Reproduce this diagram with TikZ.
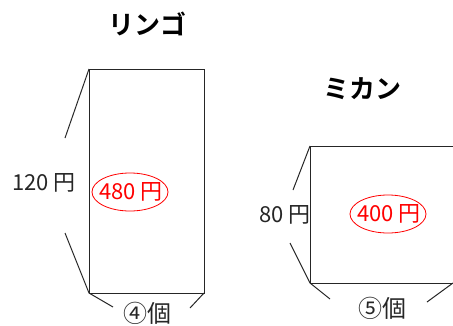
\documentclass[tikz,border=0pt]{standalone}
\usepackage{fontspec}
\newfontfamily\jp{Noto Sans CJK JP}
\newfontfamily\jpb{Noto Sans CJK JP Bold}
\begin{document}
\begin{tikzpicture}[x=1pt,y=-1pt,
  edge/.style={draw=black!85,line width=1pt},
  lbl/.style={font=\jp\fontsize{22}{22}\selectfont,inner sep=0pt,text=black!85},
  ttl/.style={font=\jpb\fontsize{26}{26}\selectfont,inner sep=0pt},
  ]
\useasboundingbox (0,0) rectangle (453,325);
% left
\node[ttl] (t1) at (147,24) {リンゴ};
\coordinate (a1) at (89,69);
\coordinate (a2) at (204,69);
\coordinate (a3) at (204,293);
\coordinate (a4) at (89,293);
\draw[edge] (a1) -- (a2) -- (a3) -- (a4) -- cycle;
\coordinate (l1) at (65,138);
\coordinate (l2) at (65,233);
\coordinate (b1) at (113,307);
\coordinate (b2) at (190,308);
\draw[edge] (a1) -- (l1);
\draw[edge] (l2) -- (a4) -- (b1);
\draw[edge] (a3) -- (b2);
\node[lbl] (h1) at (44,183) {120 円};
\draw[red,line width=0.8pt] (130,192) ellipse (38 and 19);
\node[lbl,text=red] (e1) at (131,192) {480 円};
\node[lbl,font=\jp\fontsize{24}{24}\selectfont] (w1) at (147,313) {④個};
% right
\node[ttl] (t2) at (362,89) {ミカン};
\coordinate (c1) at (310,146);
\coordinate (c2) at (453,146);
\coordinate (c3) at (453,283);
\coordinate (c4) at (310,283);
\draw[edge] (c2) -- (c1) -- (c4) -- (c3);
\coordinate (m1) at (293,190);
\coordinate (m2) at (290,243);
\coordinate (d1) at (330,299);
\coordinate (d2) at (427,302);
\draw[edge] (c1) -- (m1);
\draw[edge] (m2) -- (c4) -- (d1);
\draw[edge] (c3) -- (d2);
\node[lbl] (h2) at (285,215) {80 円};
\draw[red,line width=0.8pt] (388,214) ellipse (38 and 19);
\node[lbl,text=red] (e2) at (389,214) {400 円};
\node[lbl,font=\jp\fontsize{24}{24}\selectfont] (w2) at (382,308) {⑤個};
\end{tikzpicture}
\end{document}
